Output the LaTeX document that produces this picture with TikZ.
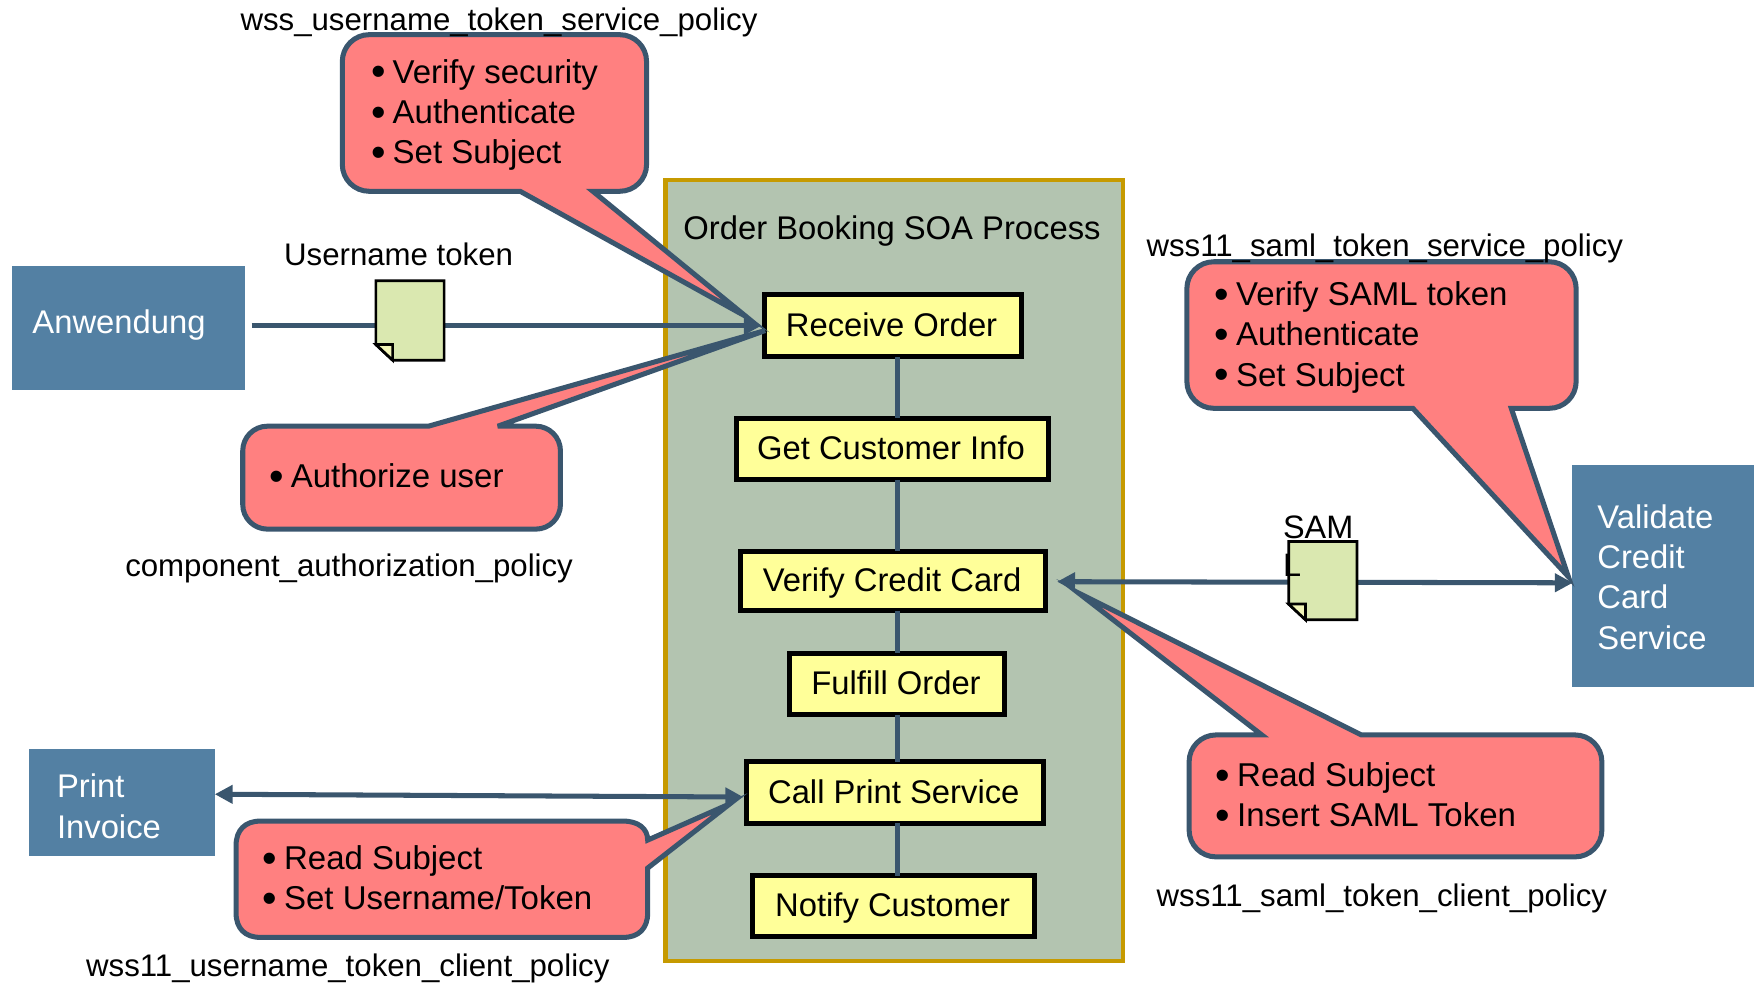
\documentclass[tikz,border=0pt]{standalone}
\usepackage{fontspec}
\setmainfont{Liberation Sans}
\usetikzlibrary{arrows.meta,calc}
\definecolor{lineblue}{HTML}{3A566E}
\definecolor{boxblue}{HTML}{5380A3}
\definecolor{pinkc}{HTML}{FF8080}
\definecolor{yellowc}{HTML}{FFFF99}
\definecolor{greenc}{HTML}{DAE8B0}
\definecolor{foldc}{HTML}{F2F5B8}
\definecolor{procfill}{HTML}{B3C4B0}
\definecolor{procline}{HTML}{C69A00}
\newcommand\blt{\makebox[18pt][l]{\hspace*{-1pt}\raisebox{-2.5pt}{\fontsize{37}{36}\selectfont •}}}
\tikzset{
  txt/.style={anchor=north west,inner sep=0pt,outer sep=0pt,align=left,font=\fontsize{29.3}{36}\selectfont},
  ctxt/.style={txt,font=\fontsize{29.5}{36}\selectfont},
  lbl/.style={txt,font=\fontsize{27.9}{36}\selectfont},
  whitetxt/.style={txt,text=white},
  stepbox/.style={draw=black,line width=4.5pt,fill=yellowc,inner sep=0pt,outer sep=0pt,font=\fontsize{29.3}{36}\selectfont,text height=19pt,text depth=0pt,execute at begin node=\hspace*{-2pt}},
  bluebox/.style={fill=boxblue,inner sep=0pt,outer sep=0pt},
  callout/.style={draw=lineblue,fill=pinkc,line width=4.5pt,miter limit=60,line join=miter},
  flow/.style={draw=lineblue,line width=4.5pt},
  head/.style={-{Triangle[length=16pt,width=16pt,fill=lineblue]}},
  dhead/.style={{Triangle[length=16pt,width=16pt,fill=lineblue]}-{Triangle[length=16pt,width=16pt,fill=lineblue]}},
  docbody/.style={draw=black,fill=greenc,line width=2.4pt,line join=miter},
  docfold/.style={draw=black,fill=foldc,line width=2.4pt},
}
\begin{document}
\begin{tikzpicture}[x=1pt,y=-1pt]
\useasboundingbox (0,0) rectangle (1568,877.9);
% process container
\node[draw=procline,fill=procfill,line width=4.2pt,minimum width=409pt,minimum height=698pt,inner sep=0pt,outer sep=0pt] (proc) at (799.5,510) {};
\node[txt] (proclabel) at (611,189) {\strut Order Booking SOA Process};
% outer boxes
\node[bluebox,minimum width=208pt,minimum height=111pt] (anw) at (115,293.5) {};
\node[bluebox,minimum width=166pt,minimum height=95pt] (prt) at (109,717.5) {};
\node[bluebox,minimum width=163pt,minimum height=198pt] (val) at (1486.5,515) {};
\node[whitetxt] (anwlabel) at (29,273) {\strut Anwendung};
\node[whitetxt] (prtlabel) at (51,688) {\strut Print\\Invoice};
\node[whitetxt] (vallabel) at (1428,447) {\strut Validate\\Credit\\Card\\Service};
% steps
\node[stepbox,minimum width=230pt,minimum height=56pt] (rcv) at (798,291) {Receive Order};
\node[stepbox,minimum width=279pt,minimum height=55pt] (gci) at (797.5,401.5) {Get Customer Info};
\node[stepbox,minimum width=273pt,minimum height=53pt] (vcc) at (798.5,519.5) {Verify Credit Card};
\node[stepbox,minimum width=192pt,minimum height=55pt] (ffo) at (802,611.5) {Fulfill Order};
\node[stepbox,minimum width=266pt,minimum height=55pt] (cps) at (800,708.5) {Call Print Service};
\node[stepbox,minimum width=252pt,minimum height=54pt] (ntf) at (799,810) {Notify Customer};
\coordinate (lx) at (802,0);
\draw[flow] (rcv.south -| lx) -- (gci.north -| lx);
\draw[flow] (gci.south -| lx) -- (vcc.north -| lx);
\draw[flow] (vcc.south -| lx) -- (ffo.north -| lx);
\draw[flow] (ffo.south -| lx) -- (cps.north -| lx);
\draw[flow] (cps.south -| lx) -- (ntf.north -| lx);
% pointer tips
\coordinate (tipA) at (667,283);
\coordinate (tipB) at (684,295.5);
\coordinate (tipC) at (652.6,718.5);
\coordinate (tipD) at (1402,515.5);
\coordinate (tipE) at (964,530);
% callouts
\draw[callout,rounded corners=24pt] (530,171) -- (578,171) -- (578,31) -- (306,31) -- (306,171) [sharp corners] -- (465,171) -- (tipA) -- cycle;
\draw[callout,miter limit=1,rounded corners=22pt] (445,381) -- (501,381) -- (501,473) -- (217,473) -- (217,381) [sharp corners] -- (383,381) -- (tipB) -- cycle;
\draw[callout] (579,751) -- (tipC) -- (579,776) -- (579,816) .. controls (579,830) and (571,838) .. (557,838) -- (233,838) .. controls (219,838) and (211,830) .. (211,816) -- (211,756) .. controls (211,742) and (219,734) .. (233,734) -- (557,734) .. controls (571,734) and (579,741) .. (579,751) -- cycle;
\draw[callout,rounded corners=24pt] (1351,365) -- (1409,365) -- (1409,234) -- (1061,234) -- (1061,365) [sharp corners] -- (1263,365) -- (tipD) -- cycle;
\draw[callout,rounded corners=24pt] (1217,657) -- (1432,657) -- (1432,766) -- (1063,766) -- (1063,657) [sharp corners] -- (1128,657) -- (tipE) -- cycle;
\node[ctxt] (ct1) at (333,49) {\strut\blt Verify security\\\blt Authenticate\\\blt Set Subject};
\node[ctxt] (ct2) at (242,411) {\strut\blt Authorize user};
\node[ctxt] (ct3) at (236,752) {\strut\blt Read Subject\\\blt Set Username/Token};
\node[ctxt] (ct4) at (1087,248) {\strut\blt Verify SAML token\\\blt Authenticate\\\blt Set Subject};
\node[ctxt] (ct5) at (1088,678) {\strut\blt Read Subject\\\blt Insert SAML Token};
% policy labels
\node[lbl] (p1) at (215,2) {\strut wss\_username\_token\_service\_policy};
\node[lbl] (p2) at (112,490) {\strut component\_authorization\_policy};
\node[lbl] (p3) at (77,848) {\strut wss11\_username\_token\_client\_policy};
\node[lbl] (p4) at (1025,204.5) {\strut wss11\_saml\_token\_service\_policy};
\node[lbl] (p5) at (1034,785.5) {\strut wss11\_saml\_token\_client\_policy};
\node[lbl] (utl) at (254,212.5) {\strut Username token};
% connectors
\coordinate (a1) at (681,291);
\coordinate (s1) at (945,520);
\coordinate (s2) at (1406,521);
\coordinate (q1) at (192,710);
\coordinate (q2) at (664.5,712.5);
\draw[flow,head] ([xshift=6pt]anw.east |- a1) -- (a1);
\draw[flow,dhead] (s1) -- (s2);
\draw[flow,dhead] (q1) -- (q2);
% documents
\draw[docbody] (336,251) -- (397,251) -- (397,322) -- (351,322) -- (336,308) -- cycle;
\draw[docfold] (336,308) -- (351,308) -- (351,322) -- cycle;
\draw[docbody] (1152,484) -- (1213,484) -- (1213,554) -- (1167,554) -- (1152,540) -- cycle;
\draw[docfold] (1152,540) -- (1167,540) -- (1167,554) -- cycle;
\node[txt,font=\fontsize{29}{34}\selectfont] (saml) at (1147,458) {\strut SAM\\L};
\end{tikzpicture}
\end{document}
